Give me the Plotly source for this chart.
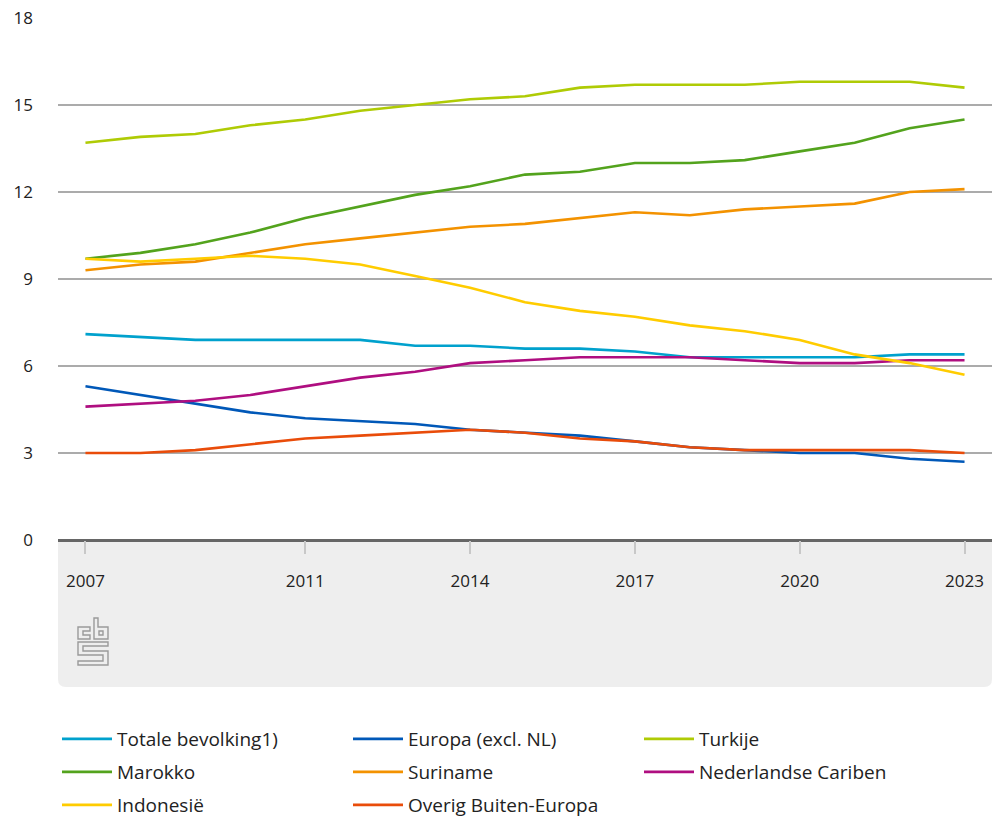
import plotly.graph_objects as go

years = list(range(2007, 2024))

totale = [7.1, 7.0, 6.9, 6.9, 6.9, 6.9, 6.7, 6.7, 6.6, 6.6, 6.5, 6.3, 6.3, 6.3, 6.3, 6.4, 6.4]
europa = [5.3, 5.0, 4.7, 4.4, 4.2, 4.1, 4.0, 3.8, 3.7, 3.6, 3.4, 3.2, 3.1, 3.0, 3.0, 2.8, 2.7]
turkije = [13.7, 13.9, 14.0, 14.3, 14.5, 14.8, 15.0, 15.2, 15.3, 15.6, 15.7, 15.7, 15.7, 15.8, 15.8, 15.8, 15.6]
marokko = [9.7, 9.9, 10.2, 10.6, 11.1, 11.5, 11.9, 12.2, 12.6, 12.7, 13.0, 13.0, 13.1, 13.4, 13.7, 14.2, 14.5]
suriname = [9.3, 9.5, 9.6, 9.9, 10.2, 10.4, 10.6, 10.8, 10.9, 11.1, 11.3, 11.2, 11.4, 11.5, 11.6, 12.0, 12.1]
cariben = [4.6, 4.7, 4.8, 5.0, 5.3, 5.6, 5.8, 6.1, 6.2, 6.3, 6.3, 6.3, 6.2, 6.1, 6.1, 6.2, 6.2]
indonesie = [9.7, 9.6, 9.7, 9.8, 9.7, 9.5, 9.1, 8.7, 8.2, 7.9, 7.7, 7.4, 7.2, 6.9, 6.4, 6.1, 5.7]
overig = [3.0, 3.0, 3.1, 3.3, 3.5, 3.6, 3.7, 3.8, 3.7, 3.5, 3.4, 3.2, 3.1, 3.1, 3.1, 3.1, 3.0]

x_tickvals = [2007, 2011, 2014, 2017, 2020, 2023]
y_tickvals = [0, 3, 6, 9, 12, 15, 18]

series = [
    ("Totale bevolking1)", totale, "#00a1cd", "legend"),
    ("Europa (excl. NL)", europa, "#0058b8", "legend"),
    ("Turkije", turkije, "#afcb05", "legend"),
    ("Marokko", marokko, "#53a31d", "legend2"),
    ("Suriname", suriname, "#f39200", "legend2"),
    ("Nederlandse Cariben", cariben, "#af0e80", "legend2"),
    ("Indonesië", indonesie, "#ffcc00", "legend3"),
    ("Overig Buiten-Europa", overig, "#e94c0a", "legend3"),
]

W, H = 992, 819
ML, MR, MT, MB = 58, 0, 18, 279
PW, PH = W - ML - MR, H - MT - MB


def px(xp):
    return (xp - ML) / PW


def py(yp):
    return (H - MB - yp) / PH


fig = go.Figure()
for name, vals, color, lg in series:
    fig.add_trace(go.Scatter(
        x=years, y=vals, name=name, mode="lines",
        line=dict(color=color, width=2.6),
        legend=lg,
    ))

# grey band below the axis with rounded bottom corners
yb = py(687)
rx, ry = 8 / PW, 8 / PH
band = (f"M 0,0 L 1,0 L 1,{yb + ry} Q 1,{yb} {1 - rx},{yb} "
        f"L {rx},{yb} Q 0,{yb} 0,{yb + ry} Z")
shapes = [dict(type="path", xref="paper", yref="paper", path=band,
               fillcolor="#eeeeee", line=dict(width=0), layer="below")]


# cbs logo (outline glyph)
def ppath(points, close=True):
    s = "M " + " L ".join(f"{px(a)},{py(b)}" for a, b in points)
    return s + (" Z" if close else "")


logo_paths = [
    ppath([(90, 627), (78, 627), (78, 639), (90, 639), (90, 635), (83, 635), (83, 631), (90, 631)]),
    ppath([(94, 618), (98, 618), (98, 627), (108, 627), (108, 639), (94, 639)]),
    ppath([(99, 631), (103, 631), (103, 635), (99, 635)]),
    ppath([(78, 642), (108, 642), (108, 646), (83, 646), (83, 651), (108, 651), (108, 665),
           (78, 665), (78, 661), (103, 661), (103, 655), (78, 655)]),
]
for p in logo_paths:
    shapes.append(dict(type="path", xref="paper", yref="paper", path=p,
                       line=dict(color="#9a9a9a", width=1.4), fillcolor="rgba(0,0,0,0)"))

font_family = "Open Sans"
legend_common = dict(
    orientation="h", xanchor="left", yanchor="middle",
    font=dict(family=font_family, size=19, color="#222222"),
    bgcolor="rgba(0,0,0,0)", borderwidth=0,
    itemwidth=50, entrywidth=226, entrywidthmode="pixels",
    itemclick=False, itemdoubleclick=False,
)
lx = px(57)

fig.update_layout(
    width=W, height=H,
    margin=dict(l=ML, r=MR, t=MT, b=MB, pad=0, autoexpand=False),
    paper_bgcolor="white", plot_bgcolor="white",
    font=dict(family=font_family, size=17, color="#222222"),
    showlegend=True,
    legend=dict(x=lx, y=py(739), **legend_common),
    legend2=dict(x=lx, y=py(772), **legend_common),
    legend3=dict(x=lx, y=py(805), **legend_common),
    shapes=shapes,
    xaxis=dict(
        range=[2006.5, 2023.5], tickvals=x_tickvals,
        ticktext=[str(v) for v in x_tickvals],
        showgrid=False, zeroline=False, showline=False,
        ticks="outside", ticklen=13, tickwidth=1.5, tickcolor="#c8c8c8",
        ticklabelstandoff=13,
        tickfont=dict(family=font_family, size=17, color="#222222"),
    ),
    yaxis=dict(
        range=[0, 18], tickvals=y_tickvals,
        showgrid=True, gridcolor="#ababab", gridwidth=1.5,
        zeroline=True, zerolinecolor="#666666", zerolinewidth=3,
        showline=False, ticks="", ticklabelstandoff=24,
        tickfont=dict(family=font_family, size=17, color="#222222"),
    ),
)

fig.write_html("out.html", config={"displayModeBar": False},
               post_script="document.body.style.margin='0';")
